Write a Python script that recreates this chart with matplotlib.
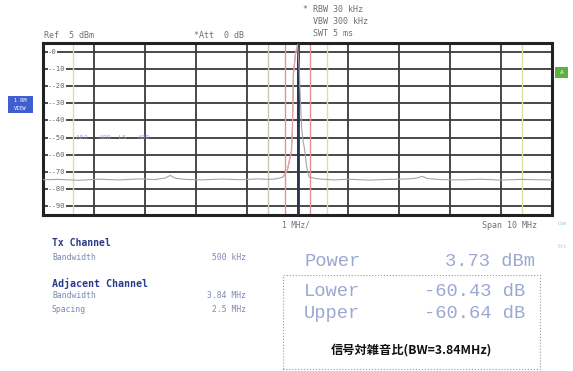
import matplotlib
matplotlib.use('Agg')
import matplotlib.pyplot as plt
import matplotlib.transforms as mtransforms
from matplotlib.patches import Rectangle

plt.rcParams['font.family'] = ['DejaVu Sans', 'Noto Sans CJK JP']

# ---------------- data ----------------
freq_offset = [-5.0, -4.7, -4.3, -3.9, -3.5, -3.1, -2.8, -2.6, -2.5, -2.4, -2.2,
               -1.9, -1.5, -1.1, -0.8, -0.55, -0.4, -0.29, -0.2, -0.12, -0.1,
               -0.08, -0.04, 0.0, 0.03, 0.06, 0.08, 0.11, 0.14, 0.18, 0.23,
               0.4, 0.7, 1.0, 1.4, 1.8, 2.2, 2.35, 2.45, 2.55, 2.8, 3.2,
               3.6, 4.0, 4.4, 4.7, 5.0]
level_dbm = [-74.5, -74.3, -74.8, -74.2, -74.6, -74.0, -74.4, -73.5, -72.0, -73.6, -74.3,
             -74.6, -74.1, -74.5, -74.0, -74.3, -73.9, -73.0, -69.0, -58.0, -45.0,
             -13.0, -1.5, 3.73, -8.0, -30.0, -44.0, -52.0, -57.0, -67.0, -73.0,
             -74.0, -74.6, -74.2, -74.7, -74.3, -74.0, -73.5, -72.5, -73.8, -74.4, -74.6,
             -74.2, -74.7, -74.3, -74.5, -74.6]
y_ticks = [0, -10, -20, -30, -40, -50, -60, -70, -80, -90]
x_ticks = [-5, -4, -3, -2, -1, 0, 1, 2, 3, 4, 5]
tx_edges = [-0.25, 0.25]
adj_inner = [-0.58, 0.58]
adj_outer = [-4.42, 4.42]

header_left = ["Ref  5 dBm", "*Att  0 dB"]
header_right = ["* RBW 30 kHz", "  VBW 300 kHz", "  SWT 5 ms"]
tx_rows = [("Bandwidth", "500 kHz")]
adj_rows = [("Bandwidth", "3.84 MHz"), ("Spacing", "2.5 MHz")]
result_power = ("Power", "3.73 dBm")
result_rows = [("Lower", "-60.43 dB"), ("Upper", "-60.64 dB")]
caption = "信号対雑音比(BW=3.84MHz)"

# ---------------- figure ----------------
W, H = 573, 371
fig = plt.figure(figsize=(W / 100, H / 100), dpi=100)
fig.patch.set_facecolor('white')

def fx(px):
    return px / W

def fy(py):
    return 1 - py / H

L, R, T, B = 43, 552, 43, 215
ax = fig.add_axes([fx(L), fy(B), fx(R) - fx(L), fy(T) - fy(B)])
ax.set_xlim(-5, 5)
ax.set_ylim(-95, 5)
ax.set_xticks([])
ax.set_yticks([])
for s in ax.spines.values():
    s.set_linewidth(2.2)
    s.set_color('#222222')

grid_c = '#3a3a3a'
for y in y_ticks:
    ax.axhline(y, color=grid_c, lw=1.3, zorder=1)
for x in x_ticks[1:-1]:
    ax.axvline(x, color=grid_c, lw=1.3, zorder=1)

# channel markers
for x in adj_outer:
    ax.axvline(x, color='#dfe0a0', lw=1.0, zorder=2)
ax.axvline(adj_inner[0], color='#c8c8b8', lw=1.0, zorder=2)
ax.axvline(adj_inner[1], color='#dfe0a0', lw=1.0, zorder=2)
for x in tx_edges:
    ax.axvline(x, color='#e89090', lw=1.0, zorder=2)
ax.axvline(0, color='#2a3550', lw=2.0, zorder=3)

# trace
ax.plot(freq_offset, level_dbm, color='#a0a4ac', lw=0.8, zorder=4)
i0 = freq_offset.index(-0.29)
i1 = freq_offset.index(0.0)
ax.plot(freq_offset[i0:i1 + 1], level_dbm[i0:i1 + 1], color='#e8a0a8', lw=0.9, zorder=5)

# y labels inside
trans = mtransforms.blended_transform_factory(ax.transAxes, ax.transData)
for y in y_ticks:
    lab = '0' if y == 0 else f'-{abs(y)}'
    ax.text(0.01, y, '-' + lab, transform=trans, fontsize=5.2, color='#666666',
            family='DejaVu Sans Mono', va='center', ha='left', zorder=6,
            bbox=dict(facecolor='white', edgecolor='none', pad=0.3))

ax.text(0.065, -50, 'ADJ   ADD  LS   ADD', transform=trans, fontsize=4.6,
        color='#8fa0d0', family='DejaVu Sans Mono', va='center', ha='left', zorder=6)

# headers
mono = 'DejaVu Sans Mono'
hs = 6.0
hc = '#707070'
fig.text(fx(44), fy(35), header_left[0], fontsize=hs, color=hc, family=mono, va='center')
fig.text(fx(194), fy(35), header_left[1], fontsize=hs, color=hc, family=mono, va='center')
for i, t in enumerate(header_right):
    fig.text(fx(303), fy(9 + 12 * i), t, fontsize=hs, color=hc, family=mono, va='center')

fig.text(fx(282), fy(225), '1 MHz/', fontsize=5.6, color=hc, family=mono, va='center')
fig.text(fx(482), fy(225), 'Span 10 MHz', fontsize=6.0, color=hc, family=mono, va='center')

# side boxes
fig.patches.append(Rectangle((fx(8), fy(113)), fx(25), fy(96) - fy(113), transform=fig.transFigure,
                             facecolor='#3f5fd0', edgecolor='none'))
fig.text(fx(20.5), fy(100.5), '1 RM', fontsize=3.8, color='white', family=mono, ha='center', va='center')
fig.text(fx(20.5), fy(109), 'VIEW', fontsize=3.8, color='white', family=mono, ha='center', va='center')
fig.patches.append(Rectangle((fx(555), fy(78)), fx(13), fy(67) - fy(78), transform=fig.transFigure,
                             facecolor='#5cb040', edgecolor='none'))
fig.text(fx(561.5), fy(72.5), 'A', fontsize=4.5, color='white', family=mono, ha='center', va='center')
fig.text(fx(558), fy(223), 'Com', fontsize=3.8, color='#9fd8d8', family=mono, va='center')
fig.text(fx(558), fy(247), 'Ext', fontsize=3.8, color='#9fd8d8', family=mono, va='center')

# bottom-left info
navy = '#2b3a8a'
light = '#7c88b4'
fig.text(fx(52), fy(243), 'Tx Channel', fontsize=7, color=navy, family=mono, weight='bold', va='center')
fig.text(fx(52), fy(257), tx_rows[0][0], fontsize=5.8, color=light, family=mono, va='center')
fig.text(fx(246), fy(257), tx_rows[0][1], fontsize=5.8, color=light, family=mono, va='center', ha='right')
fig.text(fx(52), fy(283), 'Adjacent Channel', fontsize=7.2, color=navy, family=mono, weight='bold', va='center')
for i, (a, b) in enumerate(adj_rows):
    fig.text(fx(52), fy(296 + 13 * i), a, fontsize=5.8, color=light, family=mono, va='center')
    fig.text(fx(246), fy(296 + 13 * i), b, fontsize=5.8, color=light, family=mono, va='center', ha='right')

# results
res_c = '#9aa8d2'
rmono = 'Liberation Mono'
rs = 13.5
fig.text(fx(304), fy(262), result_power[0], fontsize=rs, color=res_c, family=rmono, va='center')
fig.text(fx(535), fy(262), result_power[1], fontsize=rs, color=res_c, family=rmono, va='center', ha='right')
for i, (a, b) in enumerate(result_rows):
    fig.text(fx(304), fy(291 + 22 * i), a, fontsize=rs, color=res_c, family=rmono, va='center')
    fig.text(fx(525), fy(291 + 22 * i), b, fontsize=rs, color=res_c, family=rmono, va='center', ha='right')

fig.patches.append(Rectangle((fx(283), fy(369)), fx(540) - fx(283), fy(275) - fy(369),
                             transform=fig.transFigure, facecolor='none', edgecolor='#999999',
                             lw=0.8, linestyle=':'))
fig.text(fx(411), fy(350), caption, fontsize=8.8, color='#111111',
         family=['Noto Sans CJK JP', 'DejaVu Sans'], weight='bold', ha='center', va='center')

fig.savefig('out.png', dpi=100, facecolor='white')
